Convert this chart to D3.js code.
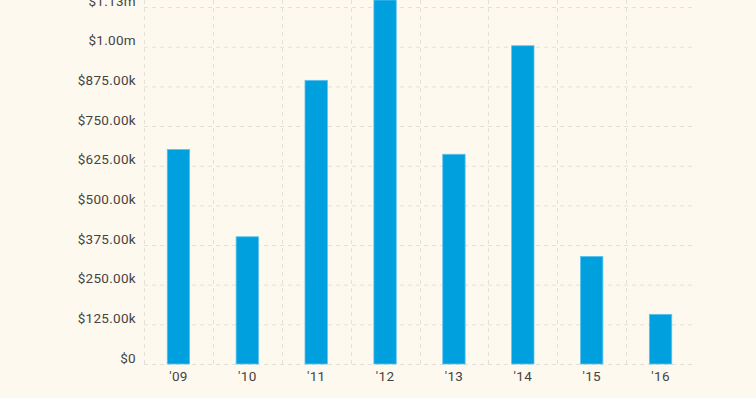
<!DOCTYPE html>
<html><head><meta charset="utf-8">
<script src="https://cdn.jsdelivr.net/npm/d3@7/dist/d3.min.js"></script>
<style>
html,body{margin:0;padding:0;background:#fef9ee;}
svg{display:block;}
</style></head>
<body>
<svg id="chart" width="756" height="398"></svg>
<script>
const categories = ["'09","'10","'11","'12","'13","'14","'15","'16"];
const values = [676000, 401000, 894000, 1250000, 661000, 1003000, 339000, 156500];
const yTicks = [0,125000,250000,375000,500000,625000,750000,875000,1000000,1125000];
const yTickLabels = ["$0","$125.00k","$250.00k","$375.00k","$500.00k","$625.00k","$750.00k","$875.00k","$1.00m","$1.13m"];

const W = 756, H = 398;
const svg = d3.select("#chart");
svg.append("rect").attr("width",W).attr("height",H).attr("fill","#fef9ee");

const left = 144, right = 695, bottom = 364;
const x = d3.scaleBand().domain(categories).range([left, right]).padding(0);
const y = d3.scaleLinear().domain([0,1000000]).range([bottom, 46.7]);

const grid = svg.append("g");
grid.selectAll("line.h").data(yTicks).join("line")
  .attr("x1", left).attr("x2", right - 2)
  .attr("y1", d => y(d)+0.5).attr("y2", d => y(d)+0.5)
  .attr("stroke", "#e4e0d6").attr("stroke-width",1).attr("stroke-dasharray","4,4");
grid.selectAll("line.v").data(categories).join("line")
  .attr("x1", d => Math.round(x(d))+0.5).attr("x2", d => Math.round(x(d))+0.5)
  .attr("y1", 0).attr("y2", bottom)
  .attr("stroke", "#e4e0d6").attr("stroke-width",1).attr("stroke-dasharray","4,4");

const bw = x.bandwidth()*0.325;
svg.append("g").selectAll("rect").data(values).join("rect")
  .attr("x", (d,i) => x(categories[i]) + x.bandwidth()/2 - bw/2)
  .attr("width", bw)
  .attr("y", d => Math.max(0, y(d)))
  .attr("height", d => bottom - Math.max(0, y(d)))
  .attr("fill", "#00a0df")
  .attr("stroke", "#5cc3ee").attr("stroke-width", 0.8);

const yAxis = d3.axisLeft(y).tickValues(yTicks).tickFormat((d,i) => yTickLabels[i]).tickSize(0).tickPadding(8);
const ga = svg.append("g").attr("transform", `translate(${left},0)`).call(yAxis);
ga.select(".domain").remove();
ga.selectAll("text").attr("dy", "-2").attr("font-family","Roboto, sans-serif").attr("font-size","13.5px")
  .attr("letter-spacing","0.3px").attr("fill","#444");

const xAxis = d3.axisBottom(x).tickSize(0).tickPadding(7);
const gx = svg.append("g").attr("transform", `translate(0,${bottom})`).call(xAxis);
gx.select(".domain").remove();
gx.selectAll("text").attr("font-family","Roboto, sans-serif").attr("font-size","13.5px")
  .attr("letter-spacing","0.3px").attr("fill","#444");
</script>
</body></html>
